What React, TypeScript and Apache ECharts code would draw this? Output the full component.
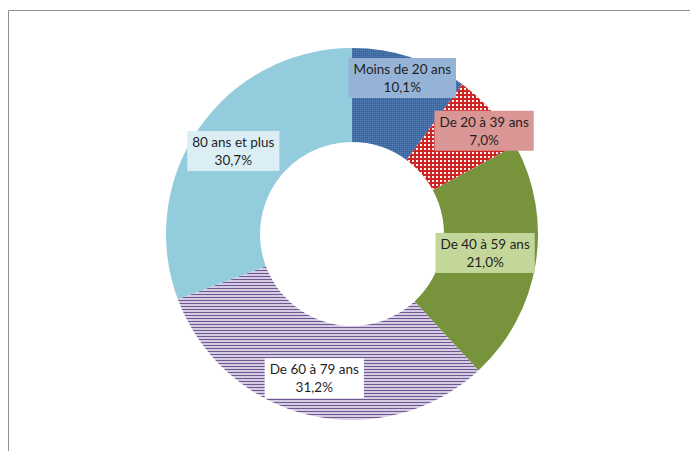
import React, { useEffect, useRef } from "react";
import * as echarts from "echarts";

const categories = ["Moins de 20 ans", "De 20 à 39 ans", "De 40 à 59 ans", "De 60 à 79 ans", "80 ans et plus"];
const values = [10.1, 7.0, 21.0, 31.2, 30.7];
const colors = ["#3d69a3", "#cf2424", "#77933c", "#d5cce3", "#93cddd"];
const labelBg = ["#95b3d7", "#da9694", "#c4d79b", "#ffffff", "#daeef3"];
const labelOffsets: number[][] = [[6, -21], [25, -10], [-7, -4], [-5, 6], [-2, -2]];

const decals: any[] = [
  { symbol: "rect", symbolSize: 1, color: "rgba(140,175,220,0.35)", dashArrayX: [1, 1], dashArrayY: [1, 1], rotation: 0 },
  { symbol: "rect", symbolSize: 1, color: "rgba(255,255,255,0.95)", dashArrayX: [2, 2], dashArrayY: [2, 2], rotation: 0 },
  null,
  { symbol: "rect", symbolSize: 1, color: "#6e5a92", dashArrayX: [1, 0], dashArrayY: [1, 2], rotation: 0 },
  null,
];

export default function App() {
  const ref = useRef<HTMLDivElement>(null);
  useEffect(() => {
    if (!ref.current) return;
    const chart = echarts.init(ref.current, null, { renderer: "svg" });
    chart.setOption({
      animation: false,
      graphic: [
        {
          type: "rect",
          shape: { x: 8.5, y: 10.5, width: 720, height: 480 },
          style: { fill: "none", stroke: "#909090", lineWidth: 1 },
          silent: true,
        },
      ],
      series: [
        {
          type: "pie",
          center: [352, 234],
          radius: [92, 186],
          startAngle: 90,
          clockwise: true,
          avoidLabelOverlap: false,
          label: {
            show: true,
            position: "inside",
            fontFamily: "Lato",
            fontSize: 13.5,
            color: "#1f1f1f",
            lineHeight: 18,
            padding: [2, 5],
            align: "center",
            formatter: (p: any) => p.name + "\n" + Number(p.value).toFixed(1).replace(".", ",") + "%",
          },
          labelLine: { show: false },
          emphasis: { disabled: true },
          data: categories.map((name, i) => ({
            name,
            value: values[i],
            itemStyle: {
              color: colors[i],
              borderWidth: 0,
              ...(decals[i] ? { decal: decals[i] } : {}),
            },
            label: {
              backgroundColor: labelBg[i],
              offset: labelOffsets[i],
            },
          })),
        },
      ],
    });
    return () => chart.dispose();
  }, []);
  return (
    <div
      ref={ref}
      style={{ position: "fixed", left: 0, top: 0, width: 690, height: 451, background: "#ffffff" }}
    />
  );
}
